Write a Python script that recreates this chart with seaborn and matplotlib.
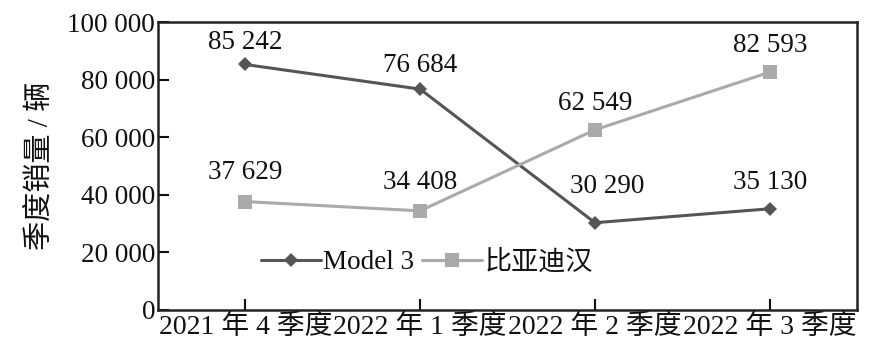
import matplotlib
matplotlib.use("Agg")
import matplotlib.pyplot as plt
import seaborn as sns
import pandas as pd
from matplotlib.ticker import FuncFormatter

categories = ["2021 年 4 季度", "2022 年 1 季度", "2022 年 2 季度", "2022 年 3 季度"]
model3 = [85242, 76684, 30290, 35130]
byd_han = [37629, 34408, 62549, 82593]
series_names = ["Model 3", "比亚迪汉"]

sns.set_theme(style="white")
plt.rcParams['font.family'] = ['Liberation Serif', 'Noto Sans CJK SC']
plt.rcParams['axes.unicode_minus'] = False

fig = plt.figure(figsize=(8.92, 3.55), dpi=100)
ax = fig.add_axes([0.177, 0.127, 0.784, 0.811])

x = list(range(len(categories)))
df1 = pd.DataFrame({"x": x, "y": model3})
df2 = pd.DataFrame({"x": x, "y": byd_han})

sns.lineplot(data=df1, x="x", y="y", ax=ax, color="#555555", marker="D",
             markersize=7, linewidth=2.2, markeredgewidth=0, label=series_names[0])
sns.lineplot(data=df2, x="x", y="y", ax=ax, color="#aaaaaa", marker="s",
             markersize=10, linewidth=2.2, markeredgewidth=0, label=series_names[1])

fs = 19.5
def fmt(v):
    return f"{int(v):,}".replace(",", " ")

# data labels
off1 = [22, 24, 36, 26]
off2 = [29, 28, 26, 27]
dx1 = [0, 0, 0.07, 0]
for i, v in enumerate(model3):
    ax.annotate(fmt(v), (x[i], v), xytext=(dx1[i] * 175, off1[i]), textcoords="offset pixels",
                ha="center", va="center", fontsize=fs, color="#111111")
for i, v in enumerate(byd_han):
    ax.annotate(fmt(v), (x[i], v), xytext=(0, off2[i]), textcoords="offset pixels",
                ha="center", va="center", fontsize=fs, color="#111111")

ax.set_xlim(-0.5, 3.5)
ax.set_ylim(0, 100000)
ax.set_xticks(x)
ax.set_xticklabels(categories, fontsize=20)
ax.set_yticks([0, 20000, 40000, 60000, 80000, 100000])
ax.yaxis.set_major_formatter(FuncFormatter(lambda v, p: fmt(v)))
ax.tick_params(axis="y", labelsize=fs, direction="in", length=8, width=1.5, left=True, pad=2, colors="#111111")
ax.tick_params(axis="x", labelsize=20, direction="in", length=8, width=1.5, bottom=True, pad=3, colors="#111111")
ax.set_xlabel("")
ax.set_ylabel("季度销量 / 辆", fontsize=21, color="#111111", labelpad=10)

for s in ax.spines.values():
    s.set_visible(True)
    s.set_color("#222222")
    s.set_linewidth(1.8)

leg = ax.legend(loc="center", bbox_to_anchor=(0.385, 0.165), frameon=False, ncol=2,
                fontsize=19.5, handlelength=2.2, handletextpad=0.1, columnspacing=0.3,
                borderpad=0, borderaxespad=0)
for t in leg.get_texts():
    t.set_color("#111111")

fig.savefig("out.png", dpi=100)
